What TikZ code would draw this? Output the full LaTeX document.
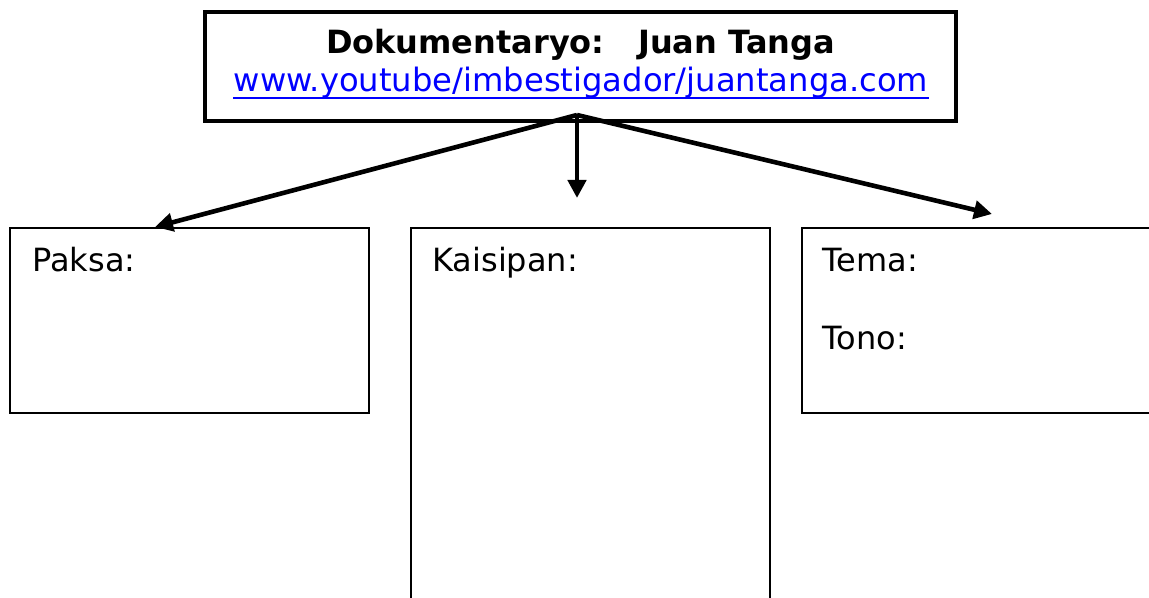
\documentclass[tikz,border=0pt]{standalone}
\usepackage{fontspec}
\setmainfont{DejaVu Sans}
\usetikzlibrary{arrows.meta}

\begin{document}
\begin{tikzpicture}[x=0.5pt, y=-0.5pt,
		boxtext/.style={anchor=base west, inner sep=0pt, font=\fontsize{16}{19}\selectfont},
		pointer/.style={line width=2.3pt, -{Triangle[length=9pt, width=9pt]}}]
			%%%%% START %%%%%
			
			\clip (0, 0) rectangle (1149, 598);
			\fill[white] (0, 0) rectangle (1149, 598);
			
			% top box
			\draw[line width=2.2pt] (205, 12) rectangle (956, 121);
			\node[inner sep=0pt, anchor=base, font=\fontsize{16}{19}\bfseries] (title) at (580.5, 54) {Dokumentaryo:\ \ \ Juan Tanga};
			\node[inner sep=0pt, anchor=base, text=blue, font=\fontsize{16.1}{19}\selectfont] (url) at (581, 92) {www.youtube/imbestigador/juantanga.com};
			\draw[blue, line width=1pt] ([yshift=-3pt]url.base west) -- ([yshift=-3pt]url.base east);
			
			% bottom boxes
			\draw[line width=1pt] (10, 228) rectangle (369, 413);
			\draw[line width=1pt] (411, 228) rectangle (770, 610);
			\draw[line width=1pt] (802, 228) rectangle (1160, 413);
			
			\node[boxtext] (paksa) at (32, 271) {Paksa:};
			\node[boxtext] (kaisipan) at (432, 271) {Kaisipan:};
			\node[boxtext] (tema) at (822, 271) {Tema:};
			\node[boxtext] (tono) at (822, 350) {Tono:};
			
			% arrows
			\coordinate (apex) at (577, 115);
			\coordinate (leftend) at (155, 227);
			\coordinate (midend) at (577, 198);
			\coordinate (rightend) at (992, 214);
			\draw[pointer] (apex) -- (leftend);
			\draw[pointer] (apex) -- (midend);
			\draw[pointer] (apex) -- (rightend);
			
			%%%%% END %%%%%
\end{tikzpicture}
\end{document}
